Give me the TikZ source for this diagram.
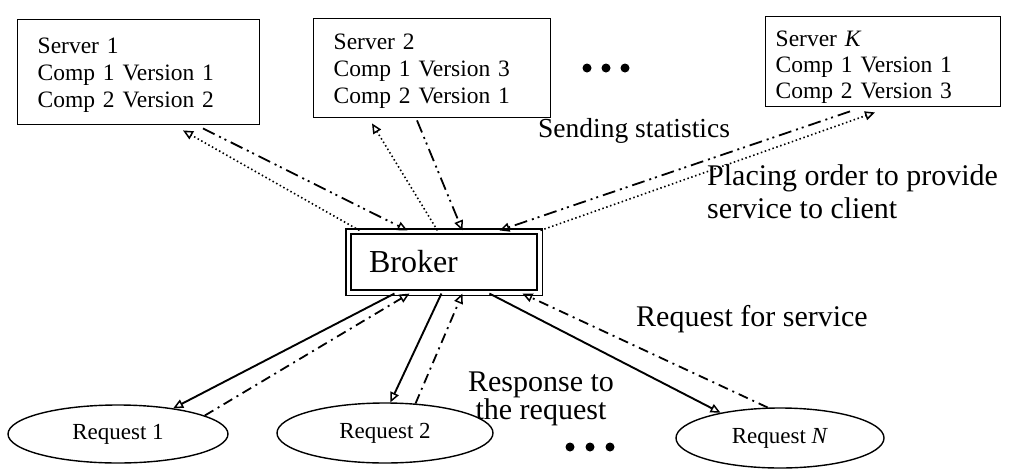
\documentclass[tikz,border=0pt]{standalone}
\usepackage{fontspec}
\setmainfont{Liberation Serif}
\usetikzlibrary{arrows.meta,shapes.geometric}

\begin{document}
\begin{tikzpicture}[x=1pt,y=-1pt,
  server/.style={draw, line width=1.4pt, anchor=north west, align=left,
    inner xsep=20pt, inner ysep=3pt, font=\fontsize{23.5}{27}\selectfont},
  brokerbox/.style={draw, double, double distance=3.5pt, line width=1.6pt,
    minimum height=61.5pt, text width=150pt, inner xsep=20.75pt, align=left,
    font=\fontsize{32}{36}\selectfont},
  reqnode/.style={ellipse, draw, line width=1.4pt, inner sep=0pt,
    font=\fontsize{23}{26}\selectfont},
  lbl/.style={font=\fontsize{30}{33}\selectfont, inner sep=0pt},
  dotmark/.style={circle, fill, inner sep=0pt, minimum size=9pt},
  tip/.style={-{Triangle[open, length=10pt, width=9pt, line width=1.5pt]}},
  solidarrow/.style={tip, line width=1.9pt},
  dashdotdot/.style={tip, line width=1.8pt,
    dash pattern=on 13pt off 5pt on 2pt off 4pt on 2pt off 5pt},
  dashdotline/.style={tip, line width=1.8pt,
    dash pattern=on 10pt off 5pt on 2pt off 5pt},
  dottedarrow/.style={tip, line width=1.6pt, dash pattern=on 1.5pt off 2.6pt}
]
\fill[white] (0,0) rectangle (1028,472);
\useasboundingbox (0,0) rectangle (1028,472);

% servers
\node[server, minimum width=242pt, minimum height=105pt, text width=202pt]
  (s1) at (17,19) {\rule{0pt}{22pt}Server 1\\Comp 1 Version 1\\Comp 2 Version 2};
\node[server, minimum width=237pt, minimum height=99pt, text width=197pt]
  (s2) at (313,18) {\rule{0pt}{22pt}Server 2\\Comp 1 Version 3\\Comp 2 Version 1};
\node[server, minimum width=235pt, minimum height=90pt, text width=215pt,
  inner xsep=10pt, font=\fontsize{23.5}{26}\selectfont]
  (sk) at (765,16) {\rule{0pt}{26pt}Server \textit{K}\\Comp 1 Version 1\\Comp 2 Version 3};

\node[dotmark] (td1) at (587,68) {};
\node[dotmark] (td2) at (606,68) {};
\node[dotmark] (td3) at (625,68) {};

% broker
\node[brokerbox] (broker) at (444,262) {Broker};

% clients
\node[reqnode, minimum width=220pt, minimum height=58pt] (r1) at (118,434) {Request 1};
\node[reqnode, minimum width=216pt, minimum height=60pt] (r2) at (385,433) {Request 2};
\node[reqnode, minimum width=208pt, minimum height=60pt] (rn) at (780,438) {Request \textit{N}};

\node[dotmark] (bd1) at (570,447) {};
\node[dotmark] (bd2) at (590,447) {};
\node[dotmark] (bd3) at (610,447) {};

% labels
\node[lbl, anchor=west, font=\fontsize{27.5}{30}\selectfont] (sendlbl) at (538,131) {Sending statistics};
\node[lbl, anchor=north west, align=left] (placelbl) at (707,164)
  {Placing order to provide\\service to client};
\node[lbl] (reqlbl) at (752,319) {Request for service};
\node[lbl, align=center, font=\fontsize{30}{28}\selectfont] (resplbl) at (541,399)
  {Response to\\the request};

% broker <-> servers
\draw[dottedarrow] ([xshift=12pt]broker.north west) -- ([xshift=166pt,yshift=-5pt]s1.south west);
\draw[dashdotdot] ([xshift=186pt,yshift=-3pt]s1.south west) -- ([xshift=60pt]broker.north west);
\draw[dottedarrow] ([xshift=90pt]broker.north west) -- ([xshift=59pt,yshift=-5pt]s2.south west);
\draw[dashdotdot] ([xshift=104pt,yshift=-2pt]s2.south west) -- ([xshift=115pt]broker.north west);
\draw[dashdotdot] ([xshift=85pt,yshift=-4pt]sk.south west) -- ([xshift=152pt]broker.north west);
\draw[dottedarrow] ([xshift=193pt]broker.north west) -- ([xshift=110pt,yshift=-5pt]sk.south west);

% broker <-> clients
\draw[solidarrow] ([xshift=47pt]broker.south west) -- (r1.25);
\draw[dashdotline] (r1.12) -- ([xshift=62pt]broker.south west);
\draw[solidarrow] ([xshift=94pt]broker.south west) -- (r2.80);
\draw[dashdotline] (r2.44) -- ([xshift=115pt]broker.south west);
\draw[solidarrow] ([xshift=142pt]broker.south west) -- (rn.157);
\draw[dashdotline] (rn.112) -- ([xshift=175pt]broker.south west);
\end{tikzpicture}
\end{document}
